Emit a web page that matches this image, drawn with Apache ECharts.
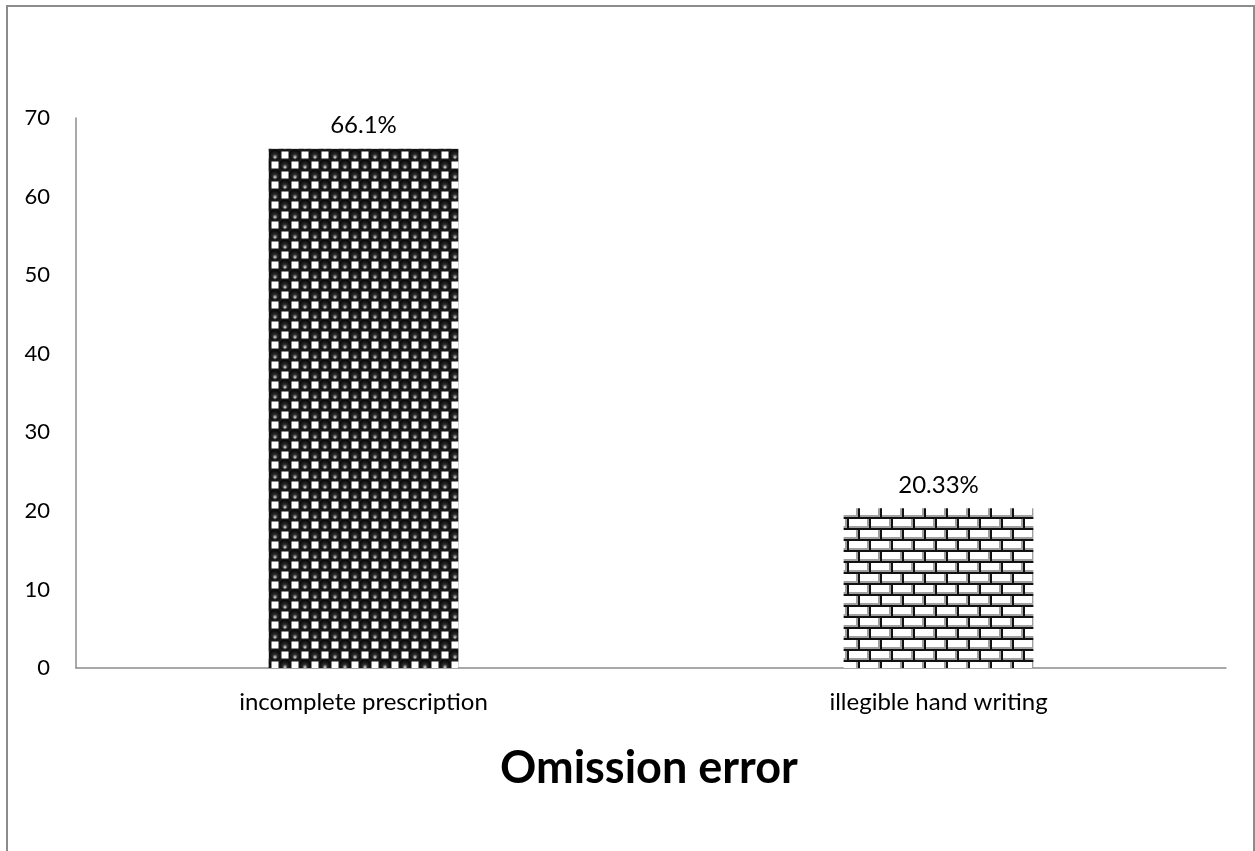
<!DOCTYPE html>
<html>
<head>
<meta charset="utf-8">
<script src="https://cdn.jsdelivr.net/npm/echarts@6/dist/echarts.min.js"></script>
<style>
html,body{margin:0;padding:0;background:#fff;}
#chart{width:1255px;height:851px;}
</style>
</head>
<body>
<div id="chart"></div>
<script>
const categories = ['incomplete prescription', 'illegible hand writing'];
const values = [66.1, 20.33];
const yTicks = [0, 10, 20, 30, 40, 50, 60, 70];
const titleText = 'Omission error';

function spherePattern() {
  const s = 20;
  const c = document.createElement('canvas');
  c.width = s; c.height = s;
  const g = c.getContext('2d');
  g.fillStyle = '#1a1a1a';
  g.fillRect(0, 0, s, s);
  g.fillStyle = '#ffffff';
  g.fillRect(11.5, 1.5, 7, 7);
  g.fillRect(1.5, 11.5, 7, 7);
  function ball(cx, cy) {
    const grd = g.createRadialGradient(cx, cy + 2.5, 0.5, cx, cy, 6);
    grd.addColorStop(0, '#bdbdbd');
    grd.addColorStop(0.35, '#2a2a2a');
    grd.addColorStop(1, '#000');
    g.fillStyle = grd;
    g.beginPath();
    g.arc(cx, cy, 5.6, 0, Math.PI * 2);
    g.fill();
  }
  ball(5, 5);
  ball(15, 15);
  return c;
}

function brickPattern() {
  const w = 22, h = 22;
  const c = document.createElement('canvas');
  c.width = w; c.height = h;
  const g = c.getContext('2d');
  g.fillStyle = '#ffffff';
  g.fillRect(0, 0, w, h);
  g.fillStyle = '#111';
  g.fillRect(0, 0, w, 2);
  g.fillRect(0, 11, w, 2);
  g.fillRect(0, 0, 2, 11);
  g.fillRect(11, 11, 2, 11);
  g.fillStyle = '#a0a0a0';
  g.fillRect(2, 9, 20, 2);
  g.fillRect(0, 20, 11, 2);
  g.fillRect(13, 20, 9, 2);
  g.fillRect(20, 2, 2, 7);
  g.fillRect(9, 13, 2, 7);
  return c;
}

const patterns = [
  { image: spherePattern(), repeat: 'repeat' },
  { image: brickPattern(), repeat: 'repeat' }
];

const chart = echarts.init(document.getElementById('chart'), null, { renderer: 'canvas' });
const fontFam = 'Lato, "Open Sans", sans-serif';
chart.setOption({
  backgroundColor: '#fff',
  animation: false,
  graphic: [{
    type: 'rect',
    shape: { x: 7, y: 6, width: 1247, height: 900 },
    style: { fill: 'none', stroke: '#8c8c8c', lineWidth: 2 },
    silent: true
  }],
  title: {
    text: titleText,
    left: 495,
    top: 741,
    textStyle: { fontFamily: fontFam, fontSize: 45, fontWeight: 'bold', color: '#000' }
  },
  grid: { left: 76, right: 29, top: 118, bottom: 183, containLabel: false },
  xAxis: {
    type: 'category',
    data: categories,
    axisLine: { show: true, lineStyle: { color: '#8c8c8c', width: 1.5 } },
    axisTick: { show: false },
    axisLabel: { fontFamily: fontFam, fontSize: 24, color: '#000', margin: 22 }
  },
  yAxis: {
    type: 'value',
    min: 0, max: 70, interval: 10,
    splitLine: { show: false },
    axisLine: { show: true, lineStyle: { color: '#8c8c8c', width: 1.5 } },
    axisTick: { show: false },
    axisLabel: {
      fontFamily: fontFam, fontSize: 22, color: '#000', margin: 26,
      formatter: v => yTicks.includes(v) ? String(v) : ''
    }
  },
  series: [{
    type: 'bar',
    barWidth: '33%',
    data: values.map((v, i) => ({ value: v, itemStyle: { color: patterns[i] } })),
    label: {
      show: true,
      position: 'top',
      distance: 11,
      fontFamily: fontFam,
      fontSize: 24,
      color: '#000',
      formatter: p => p.value + '%'
    }
  }]
});
</script>
</body>
</html>
